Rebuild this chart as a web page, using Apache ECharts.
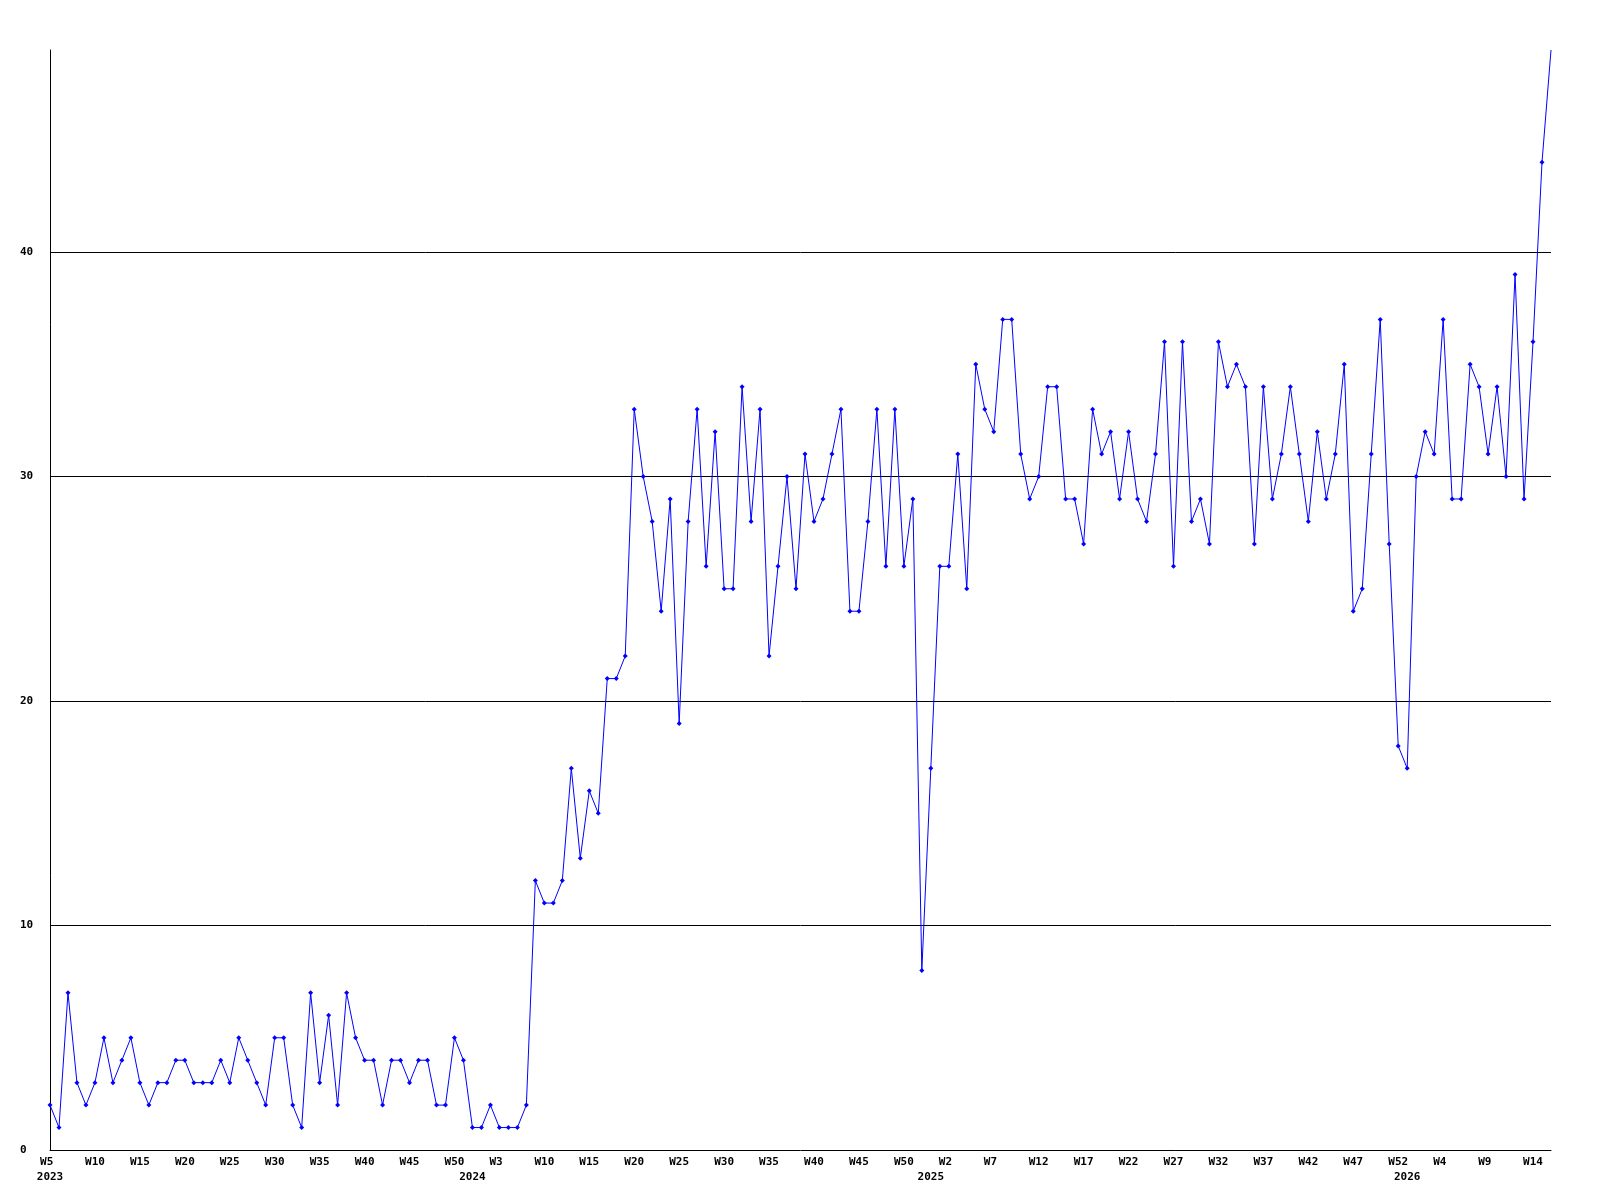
<!DOCTYPE html>
<html>
<head>
<meta charset="utf-8">
<script src="https://cdn.jsdelivr.net/npm/echarts@6/dist/echarts.min.js"></script>
<style>
  html, body { margin: 0; padding: 0; background: #ffffff; }
  #chart { width: 1600px; height: 1200px; }
</style>
</head>
<body>
<div id="chart"></div>
<script>
// ---- data ----
const weeks2023 = [5,6,7,8,9,10,11,12,13,14,15,16,17,18,19,20,21,22,23,24,25,26,27,28,29,30,31,32,33,34,35,36,37,38,39,40,41,42,43,44,45,46,47,48,49,50,51,52];
const weeks2024 = [1,2,3,4,5,8,9,10,11,12,13,14,15,16,17,18,19,20,21,22,23,24,25,26,27,28,29,30,31,32,33,34,35,36,37,38,39,40,41,42,43,44,45,46,47,48,49,50,51,52,53];
const weeks2025 = [1,2,3,4,5,6,7,8,9,10,11,12,13,14,15,16,17,18,19,20,21,22,23,24,25,26,27,28,29,30,31,32,33,34,35,36,37,38,39,40,41,42,43,44,45,46,47,48,49,50,51,52];
const weeks2026 = [0,1,2,3,4,5,6,7,8,9,10,11,12,13,14,15,16];

const values = [
  2,1,7,3,2,3,5,3,4,5,
  3,2,3,3,4,4,3,3,3,4,
  3,5,4,3,2,5,5,2,1,7,
  3,6,2,7,5,4,4,2,4,4,
  3,4,4,2,2,5,4,1,1,2,
  1,1,1,2,12,11,11,12,17,13,
  16,15,21,21,22,33,30,28,24,29,
  19,28,33,26,32,25,25,34,28,33,
  22,26,30,25,31,28,29,31,33,24,
  24,28,33,26,33,26,29,8,17,26,
  26,31,25,35,33,32,37,37,31,29,
  30,34,34,29,29,27,33,31,32,29,
  32,29,28,31,36,26,36,28,29,27,
  36,34,35,34,27,34,29,31,34,31,
  28,32,29,31,35,24,25,31,37,27,
  18,17,30,32,31,37,29,29,35,34,
  31,34,30,39,29,36,44,49
];

const yearLabels = ['2023', '2024', '2025', '2026'];
const yearLabelIndex = [0, 47, 98, 151];
const yTicks = [0, 10, 20, 30, 40];

// ---- categories ----
const categories = [];
[[2023, weeks2023], [2024, weeks2024], [2025, weeks2025], [2026, weeks2026]].forEach(([y, ws]) => {
  ws.forEach(w => categories.push(y + '-W' + w));
});

const font = { fontFamily: 'DejaVu Sans Mono', fontWeight: 'bold', fontSize: 11, color: '#000000' };

const chart = echarts.init(document.getElementById('chart'), null, { renderer: 'canvas' });
chart.setOption({
  animation: false,
  backgroundColor: '#ffffff',
  grid: { left: 50, right: 49, top: 50, bottom: 50, containLabel: false, outerBoundsMode: 'none' },
  xAxis: [
    {
      type: 'category',
      data: categories,
      boundaryGap: false,
      axisLine: { show: true, lineStyle: { color: '#000000', width: 1 } },
      axisTick: { show: false },
      splitLine: { show: false },
      axisLabel: Object.assign({
        interval: 4,
        margin: 7,
        formatter: (v) => {
          const w = v.split('-')[1];
          return w.length < 3 ? w + ' ' : w;
        }
      }, font)
    },
    {
      type: 'category',
      data: categories,
      boundaryGap: false,
      position: 'bottom',
      offset: 15,
      axisLine: { show: false },
      axisTick: { show: false },
      splitLine: { show: false },
      axisLabel: Object.assign({
        interval: (i) => yearLabelIndex.indexOf(i) >= 0,
        margin: 7,
        formatter: (v, i) => {
          const k = yearLabelIndex.indexOf(i);
          return k >= 0 ? yearLabels[k] : '';
        }
      }, font)
    }
  ],
  yAxis: {
    type: 'value',
    min: yTicks[0],
    max: 49,
    interval: 10,
    axisLine: { show: true, lineStyle: { color: '#000000', width: 1 } },
    axisTick: { show: false },
    splitLine: { show: true, showMinLine: false, showMaxLine: false, lineStyle: { color: '#000000', width: 1 } },
    axisLabel: Object.assign({ align: 'left', margin: 30, showMaxLabel: false }, font)
  },
  series: [{
    type: 'line',
    xAxisIndex: 0,
    data: values,
    showAllSymbol: true,
    symbol: (v, p) => (p.dataIndex === values.length - 1 ? 'none' : 'diamond'),
    symbolSize: 5,
    itemStyle: { color: '#0000ff' },
    lineStyle: { color: '#0000ff', width: 1 },
    clip: true
  }]
});
</script>
</body>
</html>
